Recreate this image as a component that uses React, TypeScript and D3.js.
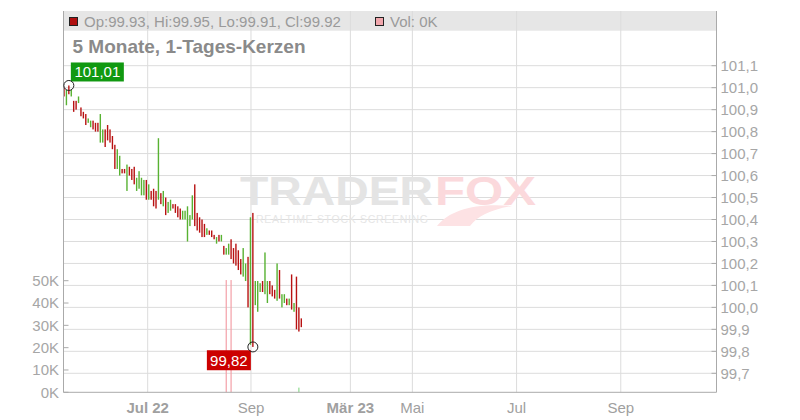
import React from 'react';
import * as d3 from 'd3';

// ---- data (daily bars) ----
const highs = [
  101.0, 100.99, 101.01, 100.99, 100.94, 100.94, 100.96, 100.91, 100.89, 100.88,
  100.86, 100.85, 100.85, 100.84, 100.84, 100.88, 100.81, 100.81, 100.83, 100.81,
  100.78, 100.74, 100.72, 100.69, 100.63, 100.63, 100.65, 100.64, 100.63, 100.64,
  100.59, 100.62, 100.59, 100.58, 100.58, 100.56, 100.53, 100.54, 100.53, 100.77,
  100.52, 100.53, 100.5, 100.48, 100.49, 100.47, 100.47, 100.46, 100.45, 100.44,
  100.44, 100.46, 100.42, 100.51, 100.56, 100.43, 100.41, 100.4, 100.38, 100.36,
  100.35, 100.35, 100.33, 100.32, 100.33, 100.33, 100.28, 100.27, 100.29, 100.31,
  100.27, 100.29, 100.26, 100.22, 100.27, 100.2, 100.23, 100.41, 100.43, 100.12,
  100.12, 100.11, 100.12, 100.25, 100.12, 100.12, 100.1, 100.08, 100.2, 100.17,
  100.06, 100.06, 100.04, 100.04, 100.15, 100.02, 100.14, 100.0, 99.95,
];
const lows = [
  100.96, 100.92, 100.97, 100.96, 100.89, 100.9, 100.93, 100.87, 100.86, 100.83,
  100.84, 100.82, 100.81, 100.8, 100.8, 100.75, 100.75, 100.73, 100.76, 100.75,
  100.72, 100.63, 100.63, 100.6, 100.61, 100.61, 100.53, 100.6, 100.58, 100.56,
  100.53, 100.54, 100.51, 100.51, 100.49, 100.49, 100.49, 100.46, 100.45, 100.49,
  100.47, 100.46, 100.42, 100.43, 100.44, 100.45, 100.43, 100.41, 100.4, 100.4,
  100.4, 100.3, 100.37, 100.4, 100.37, 100.35, 100.34, 100.32, 100.32, 100.33,
  100.33, 100.32, 100.31, 100.29, 100.3, 100.3, 100.24, 100.24, 100.24, 100.22,
  100.2, 100.19, 100.17, 100.15, 100.14, 100.12, 100.0, 99.83, 99.82, 100.01,
  99.98, 100.07, 100.07, 100.06, 100.02, 100.06, 100.05, 100.04, 100.03, 100.04,
  100.0, 100.02, 100.01, 100.01, 99.99, 99.98, 99.9, 99.89, 99.91,
];
// 1 = rising (green) bar, 0 = falling (red) bar
const rising = [
  0, 1, 0, 1, 0, 0, 1, 0, 0, 0,
  1, 1, 0, 0, 0, 1, 1, 0, 0, 0,
  0, 0, 1, 1, 0, 0, 1, 0, 0, 0,
  1, 1, 1, 1, 0, 1, 0, 0, 0, 1,
  0, 1, 0, 1, 1, 0, 0, 0, 0, 1,
  1, 1, 1, 1, 0, 0, 0, 0, 0, 1,
  0, 0, 0, 1, 0, 1, 0, 1, 1, 0,
  0, 0, 0, 0, 1, 1, 0, 1, 0, 1,
  1, 1, 0, 1, 1, 0, 0, 0, 1, 0,
  1, 1, 0, 1, 0, 1, 0, 0, 0,
];

// volume (thousands), only a few non-zero days
const volIndex = [67, 69, 97];
const volValues = [50.3, 50.3, 2.1];
const volRising = [0, 0, 1];

// header values for the last bar
const headerLabels = ['Op', 'Hi', 'Lo', 'Cl'];
const headerValues = ['99.93', '99.95', '99.91', '99.92'];
const volumeLabel = 'Vol: 0K';
const subtitle = '5 Monate, 1-Tages-Kerzen';

// axes
const priceTicks = d3.range(997, 1012).map((v) => v / 10);
const volTicks = [0, 10, 20, 30, 40, 50];
const timeTickPos = [34.56, 77.22, 118.27, 143.87, 186.9, 229.93];
const timeTickLabels = ['Jul 22', 'Sep', 'Mär 23', 'Mai', 'Jul', 'Sep'];
const timeTickBold = [true, false, true, false, false, false];

const FONT = 'Liberation Sans, Arial, sans-serif';
const RED = '#b81212';
const GREEN = '#58b232';

export default function App() {
  const W = 800;
  const H = 420;
  const left = 63.5;
  const right = 716.5;
  const bottom = 392.3;
  const top = 11;

  const x = d3.scaleLinear().domain([0, highs.length - 1]).range([64, 301.3]);
  const y = d3.scaleLinear().domain([99.7, 101.1]).range([373.3, 65.7]);
  const yv = d3.scaleLinear().domain([0, 50]).range([bottom, 280.7]);

  const fmtComma = (v: number, p: number) => d3.format(`.${p}f`)(v).replace('.', ',');

  const hiIdx = d3.maxIndex(highs);
  const loIdx = d3.minIndex(lows);
  const hiX = x(hiIdx);
  const hiY = y(highs[hiIdx]);
  const loX = x(loIdx);
  const loY = y(lows[loIdx]);
  const hiText = fmtComma(highs[hiIdx], 2);
  const loText = fmtComma(lows[loIdx], 2);

  const headerText = headerLabels.map((l, i) => `${l}:${headerValues[i]}`).join(', ');

  return (
    <svg
      width={W}
      height={H}
      style={{ position: 'absolute', left: 0, top: 0, background: '#fff' }}
      fontFamily={FONT}
    >
      {/* header band */}
      <rect x={left} y={top} width={right - left} height={19.7} fill="#e6e6e6" />

      {/* horizontal grid */}
      {priceTicks.map((t) => (
        <line key={'hg' + t} x1={left} x2={right} y1={y(t)} y2={y(t)} stroke="#dcdcdc" strokeWidth={1} />
      ))}
      {/* vertical grid */}
      {timeTickPos.map((t, i) => (
        <line key={'vg' + i} x1={x(t)} x2={x(t)} y1={top} y2={bottom} stroke="#dcdcdc" strokeWidth={1} />
      ))}

      {/* watermark */}
      <g>
        <text x={240} y={205} fontSize={40} fontWeight={900} fill="#e4e4e4" textLength={193} lengthAdjust="spacingAndGlyphs">
          TRADER
        </text>
        <text x={435} y={205} fontSize={40} fontWeight={900} fill="#fbd9dc" textLength={101} lengthAdjust="spacingAndGlyphs">
          FOX
        </text>
        <path d="M437,226 C450,210 475,203 512,206 C490,210 478,216 470,226 Z" fill="#fde2e4" />
        <text x={256} y={223} fontSize={10.5} fill="#e6e6e6" textLength={172} lengthAdjust="spacing">
          REALTIME STOCK SCREENING
        </text>
      </g>

      {/* header text */}
      <rect x={69.5} y={17.5} width={8} height={8} fill="#b01010" stroke="#222" strokeWidth={1} />
      <text x={84} y={26.5} fontSize={15} fill="#9a9a9a">
        {headerText}
      </text>
      <rect x={375.5} y={17.5} width={8} height={8} fill="#f1a7ad" stroke="#222" strokeWidth={1} />
      <text x={390} y={26.5} fontSize={15} fill="#9a9a9a">
        {volumeLabel}
      </text>
      <text x={72.5} y={52.5} fontSize={19} fontWeight="bold" fill="#8a8a8a">
        {subtitle}
      </text>

      {/* volume bars */}
      {volIndex.map((vi, k) => (
        <rect
          key={'v' + k}
          x={x(vi) - 0.6}
          y={yv(volValues[k])}
          width={1.2}
          height={yv(0) - yv(volValues[k])}
          fill={volRising[k] ? '#8fdc8f' : '#f3a0a8'}
        />
      ))}

      {/* candles */}
      {highs.map((h, i) => (
        <rect
          key={'c' + i}
          x={x(i) - 0.7}
          y={y(h)}
          width={1.4}
          height={Math.max(1, y(lows[i]) - y(h))}
          fill={rising[i] ? GREEN : RED}
        />
      ))}

      {/* frame / axes */}
      <line x1={left} x2={left} y1={top} y2={bottom} stroke="#aaa" />
      <line x1={right} x2={right} y1={top} y2={bottom} stroke="#aaa" />
      <line x1={left} x2={right} y1={bottom} y2={bottom} stroke="#aaa" />

      {/* right price axis */}
      {priceTicks.map((t) => (
        <g key={'pt' + t}>
          <line x1={right - 5} x2={right} y1={y(t)} y2={y(t)} stroke="#aaa" />
          <text x={720.5} y={y(t) + 5.3} fontSize={15} fill="#a6a6a6">
            {fmtComma(t, 1)}
          </text>
        </g>
      ))}

      {/* left volume axis */}
      {volTicks.map((t) => (
        <g key={'vt' + t}>
          <line x1={left} x2={left + 5} y1={yv(t)} y2={yv(t)} stroke="#aaa" />
          <text x={59} y={yv(t) + 5.3} fontSize={15} fill="#a6a6a6" textAnchor="end">
            {t}K
          </text>
        </g>
      ))}

      {/* time axis labels */}
      {timeTickPos.map((t, i) => (
        <text
          key={'tl' + i}
          x={x(t)}
          y={413}
          fontSize={15}
          fill="#a0a0a0"
          textAnchor="middle"
          fontWeight={timeTickBold[i] ? 'bold' : 'normal'}
        >
          {timeTickLabels[i]}
        </text>
      ))}

      {/* high marker */}
      <rect x={hiX + 2} y={hiY - 23} width={53} height={19} fill="#119911" />
      <text x={hiX + 28.5} y={hiY - 8.2} fontSize={15} fill="#fff" textAnchor="middle">
        {hiText}
      </text>
      <circle cx={hiX} cy={hiY} r={5} fill="none" stroke="#222" strokeWidth={1} />

      {/* low marker */}
      <rect x={loX - 46} y={loY + 3.3} width={44} height={20} fill="#cc0000" />
      <text x={loX - 24} y={loY + 18.8} fontSize={15} fill="#fff" textAnchor="middle">
        {loText}
      </text>
      <circle cx={loX} cy={loY} r={5} fill="none" stroke="#222" strokeWidth={1} />
    </svg>
  );
}
